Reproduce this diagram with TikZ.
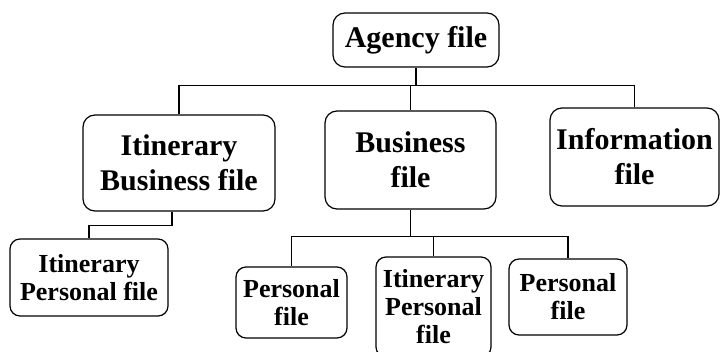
\documentclass[tikz,border=0pt]{standalone}
\usepackage{fontspec}
\setmainfont{Liberation Serif}
\usetikzlibrary{calc}

\begin{document}
\begin{tikzpicture}[x=1pt,y=-1pt,line width=1.2pt,
	filebox/.style={draw,rounded corners=12pt,align=center,inner sep=0pt,font=\fontsize{30}{35}\selectfont\bfseries},
	smallbox/.style={filebox,rounded corners=10pt,font=\fontsize{26}{28}\selectfont\bfseries}]
	\useasboundingbox (0,0) rectangle (720,352);
	\node[filebox,minimum width=166pt,minimum height=54pt] (agency) at (416,40) {Agency file};
	\node[filebox,minimum width=192pt,minimum height=96pt] (itinbus) at (179,163) {Itinerary\\Business file};
	\node[filebox,minimum width=171pt,minimum height=98pt] (business) at (410.5,160) {Business\\file};
	\node[filebox,minimum width=169pt,minimum height=98pt] (info) at (634.5,157) {Information\\file};
	\node[smallbox,minimum width=158pt,minimum height=77pt] (itinpers) at (89,277.5) {Itinerary\\Personal file};
	\node[smallbox,minimum width=111pt,minimum height=71pt] (perleft) at (291.5,302.5) {Personal\\file};
	\node[smallbox,minimum width=115pt,minimum height=100pt] (itinmid) at (433.5,307) {Itinerary\\Personal\\file};
	\node[smallbox,minimum width=118pt,minimum height=76pt] (perright) at (568,297) {Personal\\file};
	% top level
	\draw (agency.south) -- ++(0,18) coordinate (topbar);
	\draw (topbar) -| (itinbus.north);
	\draw (topbar) -| (business.north);
	\draw (topbar) -| (info.north);
	% under itinerary business file
	\draw ([xshift=-7pt]itinbus.south) -- ++(0,14) -| (itinpers.north);
	% under business file
	\draw (business.south) -- ++(0,27) coordinate (midbar);
	\draw (midbar) -| (perleft.north);
	\draw (midbar) -| (itinmid.north);
	\draw (midbar) -| (perright.north);
\end{tikzpicture}
\end{document}
